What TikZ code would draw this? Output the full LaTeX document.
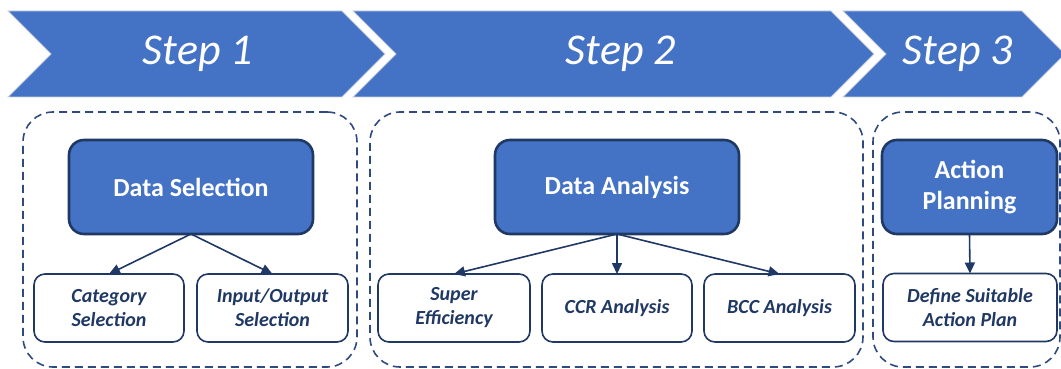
\documentclass[tikz,border=0pt]{standalone}
\usepackage{fontspec}
\setmainfont{Carlito}
\usetikzlibrary{arrows.meta}
\definecolor{chev}{HTML}{4472C4}
\definecolor{navy}{HTML}{203864}
\definecolor{dashc}{HTML}{2F4A80}
\definecolor{chevline}{HTML}{C9D0DE}
\tikzset{
  chevron/.style={fill=chev, draw=chevline, line width=0.8pt},
  steptext/.style={text=white, font=\fontsize{44}{52}\selectfont\itshape, anchor=base, inner sep=0pt},
  container/.style={draw=dashc, dash pattern=on 8pt off 5pt, line width=1.6pt, rounded corners=30pt, inner sep=0pt, outer sep=0pt},
  mainbox/.style={fill=chev, draw=navy, line width=2.6pt, rounded corners=15pt, text=white, font=\fontsize{26}{31}\selectfont\bfseries, align=center, inner sep=0pt, outer sep=0pt},
  subbox/.style={fill=white, draw=navy, line width=1.6pt, rounded corners=11pt, text=navy, font=\fontsize{20}{24}\selectfont\bfseries\itshape, align=center, inner sep=0pt, outer sep=0pt},
  conn/.style={draw=navy, line width=1.6pt, -{Triangle[length=11pt,width=10pt]}}
}
\begin{document}
\begin{tikzpicture}[x=1pt,y=-1pt]
\useasboundingbox (0,0) rectangle (1061,369);
\clip (0,0) rectangle (1061,369);
% chevrons
\draw[chevron] (8,11) -- (342,11) -- (385,54) -- (342,97) -- (8,97) -- (51,54) -- cycle;
\draw[chevron] (353,11) -- (831,11) -- (874,54) -- (831,97) -- (353,97) -- (396,54) -- cycle;
\draw[chevron] (843,11) -- (1022,11) -- (1065,54) -- (1022,97) -- (843,97) -- (886,54) -- cycle;
\node[steptext] (s1) at (198,65) {Step 1};
\node[steptext] (s2) at (621,65) {Step 2};
\node[steptext] (s3) at (958,65) {Step 3};
% containers
\node[container, minimum width=334pt, minimum height=255pt] (c1) at (190,239.5) {};
\node[container, minimum width=493pt, minimum height=255pt] (c2) at (616.5,239.5) {};
\node[container, minimum width=187pt, minimum height=255pt] (c3) at (966.5,239.5) {};
% main boxes
\node[mainbox, minimum width=244pt, minimum height=94pt] (ds) at (191,187) {Data Selection};
\node[mainbox, minimum width=244pt, minimum height=94pt] (da) at (617,187) {Data Analysis};
\node[mainbox, minimum width=175pt, minimum height=94pt] (ap) at (969.5,187) {Action\\Planning};
% sub boxes
\node[subbox, minimum width=150pt, minimum height=68pt] (cat) at (109,308) {Category\\Selection};
\node[subbox, minimum width=151pt, minimum height=68pt] (io) at (272.5,308) {Input/Output\\Selection};
\node[subbox, minimum width=152pt, minimum height=68pt] (se) at (454,308) {Super\\Efficiency};
\node[subbox, minimum width=150pt, minimum height=68pt] (ccr) at (617,308) {CCR Analysis};
\node[subbox, minimum width=151pt, minimum height=68pt] (bcc) at (779.5,308) {BCC Analysis};
\node[subbox, minimum width=174pt, minimum height=68pt] (def) at (970,307.5) {Define Suitable\\Action Plan};
% connectors
\draw[conn] (ds.south) -- (cat.north);
\draw[conn] (ds.south) -- (io.north);
\draw[conn] (da.south) -- (se.north);
\draw[conn] (da.south) -- (ccr.north);
\draw[conn] (da.south) -- (bcc.north);
\draw[conn] (ap.south) -- (def.north);
\end{tikzpicture}
\end{document}
